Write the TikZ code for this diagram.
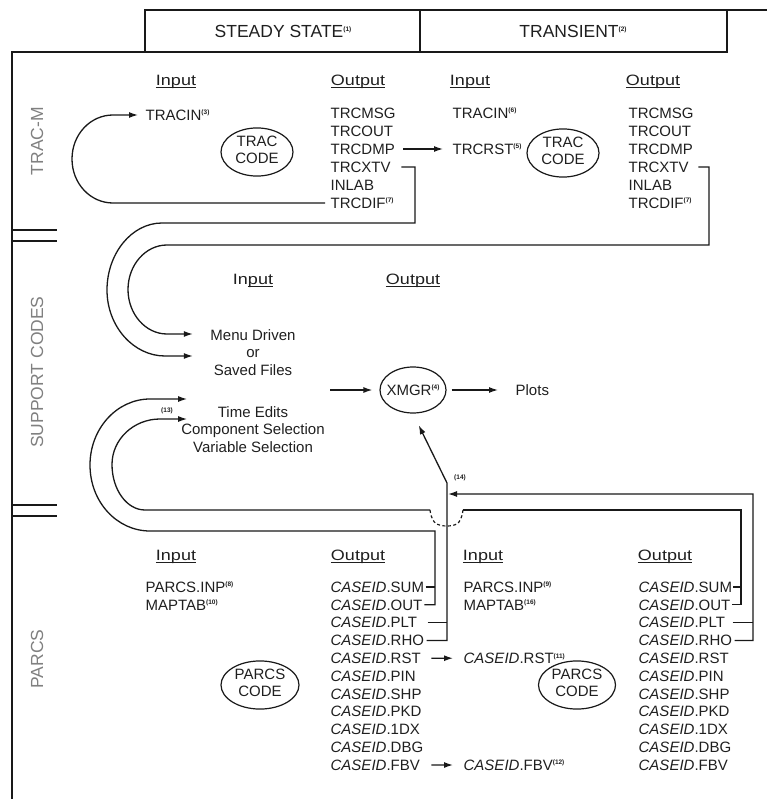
\documentclass[tikz,border=0pt]{standalone}
\usepackage{fontspec}
\setmainfont{Liberation Sans}
\usetikzlibrary{arrows.meta,shapes.geometric,calc}
\newcommand\fnote[1]{\raisebox{5.5pt}{\fontsize{6.5}{6.5}\selectfont\bfseries(#1)}}
\newcommand\uln[1]{\setbox0\hbox{#1}\leavevmode\rlap{\rule[-2.2pt]{\wd0}{0.9pt}}\box0}
\newcommand\wide[1]{\scalebox{1.2}[1]{#1}}
\newcommand\cid{\textit{CASEID}}
\newcommand\twol[2]{\makebox[0pt]{\begin{tabular}{@{}c@{}}#1\\#2\end{tabular}}}
\begin{document}
\begin{tikzpicture}[x=1pt, y=-1pt, line width=1.3pt, black!90,
  every node/.style={inner sep=0pt, text=black!88},
  txt/.style={font=\fontsize{15}{17.5}\selectfont, anchor=west, text height=10.7pt, text depth=0pt},
  ctr/.style={font=\fontsize{15}{17.5}\selectfont, align=center},
  hdg/.style={font=\fontsize{15}{17.5}\selectfont, text height=10.7pt, text depth=0pt},
  hdr/.style={font=\fontsize{17.5}{17.5}\selectfont, text height=12.5pt, text depth=0pt},
  lab/.style={rotate=90, font=\fontsize{17.5}{17.5}\selectfont, text=black!50},
  ell/.style={draw, ellipse, line width=1.2pt, font=\fontsize{15}{17}\selectfont},
  arr/.style={-{Latex[length=9pt,width=6pt]}},
  fnt/.style={font=\fontsize{6.5}{6.5}\selectfont\bfseries}]
\useasboundingbox (0,0) rectangle (767,799);

% frame and header
\draw (145,52) -- (145,10) -- (767,10);
\draw (12,799) -- (12,52) -- (727,52) -- (727,10);
\draw (420,10) -- (420,52);
\node[hdr] (hss) at (283,31) {STEADY STATE\fnote{1}};
\node[hdr] (htr) at (573,31) {TRANSIENT\fnote{2}};
\draw (12,230) -- (57,230);
\draw (12,241) -- (57,241);
\draw (12,505) -- (57,505);
\draw (12,516) -- (57,516);

% section labels
\node[lab] (lt) at (37,141) {TRAC-M};
\node[lab] (ls) at (37,372) {SUPPORT CODES};
\node[lab] (lp) at (37,659) {PARCS};

% TRAC-M steady state
\node[hdg] (ti1) at (176,80) {\wide{\uln{Input}}};
\node[hdg] (to1) at (358,80) {\wide{\uln{Output}}};
\node[txt] (tracin1) at (145,115) {TRACIN\fnote{3}};
\node[ell, minimum width=72pt, minimum height=44pt] (trc1) at (257,152) {\twol{TRAC}{CODE}};
\node[txt] (s1) at (330,113) {TRCMSG};
\node[txt] (s2) at (330,131) {TRCOUT};
\node[txt] (s3) at (330,149) {TRCDMP};
\node[txt] (s4) at (330,167) {TRCXTV};
\node[txt] (s5) at (330,185) {INLAB};
\node[txt] (s6) at (330,203) {TRCDIF\fnote{7}};

% TRAC-M transient
\node[hdg] (ti2) at (470,80) {\wide{\uln{Input}}};
\node[hdg] (to2) at (653,80) {\wide{\uln{Output}}};
\node[txt] (tracin2) at (452,113) {TRACIN\fnote{6}};
\node[txt] (trcrst) at (452,149) {TRCRST\fnote{5}};
\node[ell, minimum width=72pt, minimum height=45pt] (trc2) at (563,153) {\twol{TRAC}{CODE}};
\node[txt] (t1) at (628,113) {TRCMSG};
\node[txt] (t2) at (628,131) {TRCOUT};
\node[txt] (t3) at (628,149) {TRCDMP};
\node[txt] (t4) at (628,167) {TRCXTV};
\node[txt] (t5) at (628,185) {INLAB};
\node[txt] (t6) at (628,203) {TRCDIF\fnote{7}};

% support codes
\node[hdg] (si) at (253,279) {\wide{In\uln{put}}};
\node[hdg] (so) at (413,279) {\wide{\uln{Output}}};
\node[ctr] (menu) at (253,352.5) {Menu Driven\\or\\Saved Files};
\node[ctr] (te) at (253,429.5) {Time Edits\\Component Selection\\Variable Selection};
\node[ell, minimum width=66pt, minimum height=46pt] (xmgr) at (413,390) {\makebox[0pt]{XMGR\fnote{4}}};
\node[txt] (plots) at (515,390) {Plots};
\node[fnt] (n13) at (167,411) {(13)};
\node[fnt] (n14) at (460,478) {(14)};

% PARCS steady state
\node[hdg] (pi1) at (176,555) {\wide{\uln{Input}}};
\node[hdg] (po1) at (358,555) {\wide{\uln{Output}}};
\node[txt] (pinp1) at (145,587) {PARCS.INP\fnote{8}};
\node[txt] (map1) at (145,605) {MAPTAB\fnote{10}};
\foreach \n [count=\i] in {SUM,OUT,PLT,RHO,RST,PIN,SHP,PKD,1DX,DBG,FBV}
  \node[txt] (ps\i) at (330,{587+17.8*(\i-1)}) {\cid.\n};
\node[ell, minimum width=78pt, minimum height=46pt] (pc1) at (260,685) {\twol{PARCS}{CODE}};

% PARCS transient
\node[hdg] (pi2) at (483,555) {\wide{\uln{Input}}};
\node[hdg] (po2) at (665,555) {\wide{\uln{Output}}};
\node[txt] (pinp2) at (463,587) {PARCS.INP\fnote{9}};
\node[txt] (map2) at (463,605) {MAPTAB\fnote{16}};
\node[txt] (rst2) at (463,658.2) {\cid.RST\fnote{11}};
\node[txt] (fbv2) at (463,765) {\cid.FBV\fnote{12}};
\foreach \n [count=\i] in {SUM,OUT,PLT,RHO,RST,PIN,SHP,PKD,1DX,DBG,FBV}
  \node[txt] (pt\i) at (638,{587+17.8*(\i-1)}) {\cid.\n};
\node[ell, minimum width=77pt, minimum height=45pt] (pc2) at (577,685) {\twol{PARCS}{CODE}};

% TRAC-M connectors
\draw[arr, shorten <=8pt, shorten >=9pt] (s3.east) -- (trcrst.west);
\draw[arr] ([xshift=-5pt]s6.west) -- (113,203)
  .. controls (90.4,203) and (72,183.6) .. (72,159)
  .. controls (72,134.4) and (90.4,115) .. (113,115) -- ([xshift=-7pt]tracin1.west);
\draw[arr] ([xshift=10pt]s4.east) -- (415,167) -- (415,223) -- (162,223)
  .. controls (131.6,223) and (107,253.6) .. (107,290)
  .. controls (107,326.4) and (133.5,356) .. (165,356) -- ($(menu.west)+(-17,3.5)$);
\draw[arr] ([xshift=9pt]t4.east) -- (709,167) -- (709,245) -- (167,245)
  .. controls (145.5,245) and (128,265) .. (128,289.5)
  .. controls (128,314) and (145.5,334) .. (167,334) -- ($(menu.west)+(-17,-18.5)$);

% support connectors
\coordinate (xin) at (330,390);
\draw[arr, shorten >=7pt] (xin) -- (xmgr.west);
\draw[arr, shorten <=5pt, shorten >=17pt] (xmgr.east) -- (plots.west);

% PARCS steady SUM/OUT -> Time Edits
\draw ([xshift=1pt]ps1.east) -- (435,587);
\draw[arr] ([xshift=1.5pt]ps2.east) -- (435,604.8) -- (435,531) -- (150,531)
  .. controls (117,531) and (90,502) .. (90,465)
  .. controls (90,428.5) and (117,399) .. (150,399) -- ($(te.west)+(6.5,-30.5)$);

% PARCS transient SUM/OUT -> Component Selection
\draw ([xshift=0.5pt]pt1.east) -- (741,587);
\draw ([xshift=1.5pt]pt2.east) -- (741,604.8) -- (741,510) -- (463,510);
\draw[dash pattern=on 3pt off 2.5pt, line width=1.2pt] (463,510) .. controls (461,526) and (454,526) .. (447,526)
  .. controls (440,526) and (432,526) .. (430,510);
\draw[arr] (430,510) -- (145,510)
  .. controls (126.8,510) and (112,489.6) .. (112,464.5)
  .. controls (112,439.4) and (133.5,419) .. (160,419) -- ($(te.west)+(6.5,-10.5)$);

% PARCS steady PLT/RHO -> XMGR
\draw ([xshift=10pt]ps3.east) -- (447,622.6);
\coordinate (vtop) at (447,483);
\draw[arr, shorten >=13pt] ([xshift=2pt]ps4.east) -- (447,640.4) -- (vtop) -- (xmgr.south);

% PARCS transient PLT/RHO -> join
\coordinate (vj) at (448,494);
\draw ([xshift=7pt]pt3.east) -- (753,622.6);
\draw[arr] ([xshift=2pt]pt4.east) -- (753,640.4) -- (753,494) -- (vj);

% restart files
\draw[arr, shorten <=10pt, shorten >=10pt] (ps5.east) -- (rst2.west);
\draw[arr, shorten <=11pt, shorten >=10pt] (ps11.east) -- (fbv2.west);
\end{tikzpicture}
\end{document}
